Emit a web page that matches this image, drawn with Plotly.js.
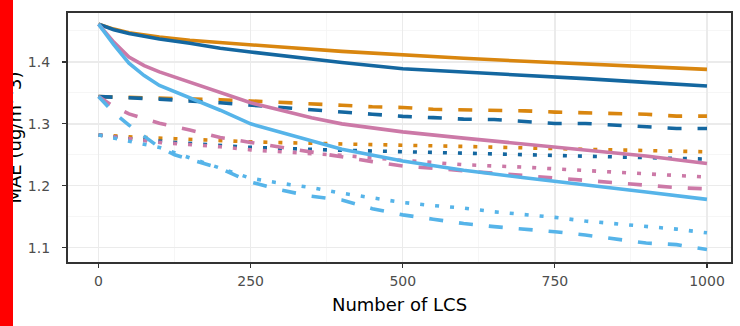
<!DOCTYPE html>
<html>
<head>
<meta charset="utf-8">
<script src="https://cdn.plot.ly/plotly-3.0.1.min.js"></script>
<style>
html,body{margin:0;padding:0;background:#fff;overflow:hidden;}
#chart{width:740px;height:326px;position:relative;}
#redbar{position:absolute;left:0;top:0;width:13px;height:326px;background:#ff0000;z-index:10;}
</style>
</head>
<body>
<div id="wrap" style="position:relative;width:740px;height:326px;">
<div id="chart"></div>
<div id="redbar"></div>
</div>
<script>
// ---- data ----
const xSolidOB = [0,25,50,100,150,200,250,300,400,500,600,700,800,900,1000];
const ySolidOrange = [1.461,1.453,1.447,1.440,1.435,1.431,1.428,1.424,1.417,1.411,1.406,1.401,1.397,1.392,1.388];
const ySolidBlue   = [1.461,1.452,1.446,1.437,1.430,1.422,1.416,1.410,1.399,1.389,1.384,1.379,1.373,1.367,1.361];

const xSolidPS = [0,25,50,75,100,150,200,250,300,350,400,500,600,700,800,900,1000];
const ySolidPink = [1.461,1.432,1.408,1.394,1.384,1.367,1.350,1.334,1.322,1.310,1.300,1.287,1.277,1.267,1.258,1.248,1.236];
const ySolidSky  = [1.461,1.428,1.398,1.378,1.362,1.342,1.322,1.300,1.286,1.273,1.259,1.240,1.225,1.213,1.202,1.190,1.178];

const xDashOB = [0,100,200,250,300,350,400,450,500,550,600,650,700,750,800,850,900,950,1000];
const yDashOrange = [1.344,1.342,1.339,1.337,1.335,1.333,1.330,1.3275,1.3265,1.3235,1.323,1.322,1.321,1.319,1.318,1.3156,1.3155,1.3125,1.3124];
const yDashBlue   = [1.344,1.340,1.334,1.330,1.326,1.323,1.319,1.3156,1.312,1.310,1.3076,1.307,1.3044,1.3006,1.3006,1.298,1.2952,1.2926,1.2926];

const xDashPink = [0,25,50,100,150,200,250,300,350,400,450,500,550,600,650,700,750,800,850,900,950,1000];
const yDashPink = [1.344,1.328,1.316,1.301,1.290,1.278,1.270,1.262,1.255,1.247,1.239,1.232,1.228,1.225,1.221,1.217,1.213,1.209,1.204,1.200,1.197,1.195];

const xDashSky = [0,25,50,100,125,150,200,250,300,350,400,450,500,550,600,650,700,750,800,850,900,950,1000];
const yDashSky = [1.344,1.318,1.298,1.262,1.250,1.243,1.228,1.206,1.193,1.183,1.177,1.163,1.153,1.146,1.139,1.134,1.130,1.1258,1.1204,1.114,1.1075,1.105,1.097];

const xDotOB = [0,50,125,250,375,500,625,750,875,1000];
const yDotOrange = [1.282,1.279,1.276,1.271,1.268,1.266,1.263,1.260,1.257,1.2548];
const yDotBlue   = [1.282,1.276,1.270,1.262,1.258,1.255,1.252,1.249,1.246,1.243];

const xDotPink = [0,50,100,200,250,300,400,500,600,700,800,900,1000];
const yDotPink = [1.282,1.276,1.270,1.263,1.258,1.255,1.249,1.241,1.234,1.230,1.225,1.220,1.214];

const xDotSky = [0,50,100,150,200,250,300,350,400,450,500,550,600,650,700,750,800,850,900,950,1000];
const yDotSky = [1.282,1.272,1.262,1.245,1.228,1.212,1.204,1.197,1.188,1.180,1.173,1.168,1.164,1.158,1.154,1.149,1.143,1.139,1.134,1.130,1.124];

const xTicks = [0,250,500,750,1000];
const yTicks = [1.1,1.2,1.3,1.4];
const yTickText = ["1.1","1.2","1.3","1.4"];
const xTitle = "Number of LCS";
const yTitle = "MAE (ug/m^3)";

// ---- styles ----
const cOrange = "#D9860F", cBlue = "#1467A0", cPink = "#CC79A7", cSky = "#56B4E9";
const LW = 3.6;
const DASH = "14px,16px", DOT = "4px,11px";

function tr(x, y, color, dash){
  return {x:x, y:y, type:"scatter", mode:"lines", hoverinfo:"skip",
          line:{color:color, width:LW, dash:dash}, showlegend:false};
}
const traces = [
  tr(xDotOB, yDotOrange, cOrange, DOT),
  tr(xDotOB, yDotBlue, cBlue, DOT),
  tr(xDotPink, yDotPink, cPink, DOT),
  tr(xDotSky, yDotSky, cSky, DOT),
  tr(xDashOB, yDashOrange, cOrange, DASH),
  tr(xDashOB, yDashBlue, cBlue, DASH),
  tr(xDashPink, yDashPink, cPink, DASH),
  tr(xDashSky, yDashSky, cSky, DASH),
  tr(xSolidOB, ySolidOrange, cOrange, "solid"),
  tr(xSolidOB, ySolidBlue, cBlue, "solid"),
  tr(xSolidPS, ySolidPink, cPink, "solid"),
  tr(xSolidPS, ySolidSky, cSky, "solid")
];

const FONT = "DejaVu Sans, Liberation Sans, Arial, sans-serif";
const layout = {
  width:740, height:326,
  margin:{l:68, r:9.3, t:12.7, b:64, pad:0},
  paper_bgcolor:"#ffffff", plot_bgcolor:"#ffffff",
  showlegend:false,
  xaxis:{
    range:[-50.2, 1039.5], tickvals:xTicks, ticktext:xTicks.map(String),
    showgrid:true, gridcolor:"#EBEBEB", gridwidth:1.3,
    minor:{dtick:125, tick0:125, showgrid:true, gridcolor:"#F4F4F4", gridwidth:0.8, ticks:""},
    zeroline:false, showline:true, mirror:true, linecolor:"#333333", linewidth:1.6,
    ticks:"outside", ticklen:4.5, tickwidth:1.2, tickcolor:"#333333",
    ticklabelstandoff:1,
    tickfont:{family:FONT, size:14, color:"#4D4D4D"},
    title:{text:xTitle, font:{family:FONT, size:18, color:"#000000"}, standoff:10}
  },
  yaxis:{
    range:[1.0769, 1.479], tickvals:yTicks, ticktext:yTickText,
    showgrid:true, gridcolor:"#EBEBEB", gridwidth:1.3,
    minor:{dtick:0.05, tick0:1.05, showgrid:true, gridcolor:"#F4F4F4", gridwidth:0.8, ticks:""},
    zeroline:false, showline:true, mirror:true, linecolor:"#333333", linewidth:1.6,
    ticks:"outside", ticklen:4.5, tickwidth:1.2, tickcolor:"#333333",
    ticklabelstandoff:9,
    tickfont:{family:FONT, size:14, color:"#4D4D4D"},
    title:{text:yTitle, font:{family:FONT, size:18, color:"#000000"}, standoff:1}
  }
};
Plotly.newPlot("chart", traces, layout, {staticPlot:true, displayModeBar:false});
</script>
</body>
</html>
